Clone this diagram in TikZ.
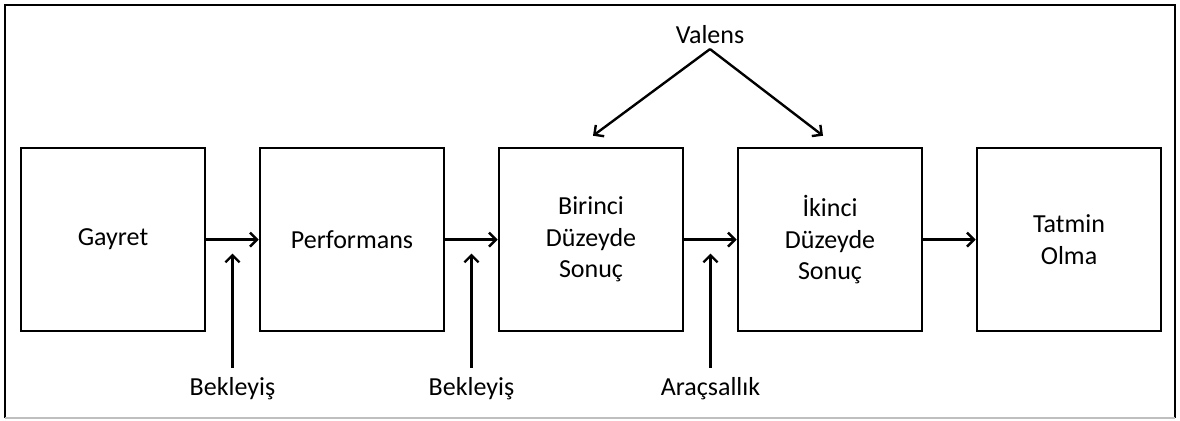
\documentclass[tikz,border=0pt]{standalone}
\usepackage{fontspec}
\setmainfont{Carlito}
\usetikzlibrary{arrows.meta,calc,positioning}
\tikzset{
  kutu/.style={draw,line width=1.9pt,minimum width=4.6cm,minimum height=4.575cm,align=center,inner sep=0pt},
  ok/.style={line width=1.7pt,-{Straight Barb[length=5pt,width=10pt]}}
}

\begin{document}
\begin{tikzpicture}[font=\fontsize{18.5}{22.5}\selectfont,node distance=1.375cm-1.9pt]
%Kutular 184px breit, Abstand 55px (1px = 0.025cm)
  \pgfmathsetmacro{\ust}{0.275}
  \pgfmathsetmacro{\alt}{0.35}
  \useasboundingbox (0,0) rectangle (29.5,10.5);
  \draw[line width=1.9pt] (0.125,0.05) -- (0.125,10.375) -- (29.375,10.375) -- (29.375,0.05);
  \draw[gray!50,line width=1pt] (0.125,0.05) -- (29.375,0.05);
\node[kutu] (gayret) at (2.825,4.51) {Gayret};
\node[kutu,right=of gayret] (performans) {Performans};
\node[kutu,right=of performans] (birinci) {Birinci\\Düzeyde\\Sonuç};
\node[kutu,right=of birinci] (ikinci) {İkinci\\Düzeyde\\Sonuç};
\node[kutu,right=of ikinci] (tatmin) {Tatmin\\Olma};
\foreach \a/\b in {gayret/performans,performans/birinci,birinci/ikinci,ikinci/tatmin}{
\draw[ok] (\a) -- (\b);
}
%untere Beschriftungen
\foreach \a/\b/\isim/\metin in {gayret/performans/bek1/Bekleyiş,performans/birinci/bek2/Bekleyiş,birinci/ikinci/arac/Araçsallık}{
\coordinate (\isim-uc) at ($(\a.east)!0.5!(\b.west)+(0,-\alt)$);
\node[anchor=base] (\isim) at (\isim-uc |- 0,0.625) {\metin};
\draw[ok,shorten <=3pt] (\isim.north) -- (\isim-uc);
}
\node (valens) at (17.75,9.625) {Valens};
\coordinate (v1) at ($(birinci.north)+(0.05,\ust)$);
\coordinate (v2) at ($(ikinci.north)+(-0.175,\ust)$);
\draw[ok] (valens.south) -- (v1);
\draw[ok] (valens.south) -- (v2);
\end{tikzpicture}
\end{document}
